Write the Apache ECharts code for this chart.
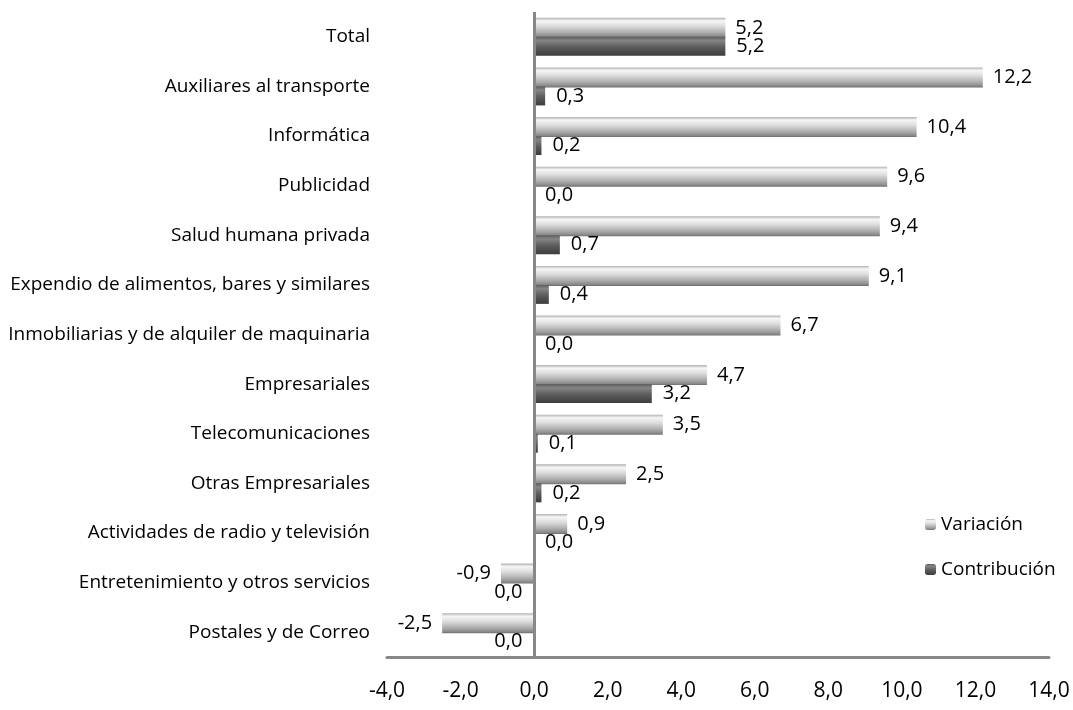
<!DOCTYPE html>
<html><head><meta charset="utf-8">
<script src="https://cdn.jsdelivr.net/npm/echarts@6/dist/echarts.min.js"></script>
<style>html,body{margin:0;padding:0;background:#fff}#c{width:1073px;height:710px}</style>
</head><body><div id="c"></div>
<script>
const categories = ["Total","Auxiliares al transporte","Informática","Publicidad","Salud humana privada","Expendio de alimentos, bares y similares","Inmobiliarias y de alquiler de maquinaria","Empresariales","Telecomunicaciones","Otras Empresariales","Actividades de radio y televisión","Entretenimiento y otros servicios","Postales y de Correo"];
const variacion = [5.2,12.2,10.4,9.6,9.4,9.1,6.7,4.7,3.5,2.5,0.9,-0.9,-2.5];
const contribucion = [5.2,0.3,0.2,0.0,0.7,0.4,0.0,3.2,0.1,0.2,0.0,-0.02,-0.02];
const xTicks = [-4,-2,0,2,4,6,8,10,12,14];

const fmt = v => { if (Math.abs(v) < 0.05) return '0,0'; return v.toFixed(1).replace('.', ','); };
const font = '"Open Sans", "Liberation Sans", Arial, sans-serif';
const mk = arr => arr.map(v => ({value: v, label: {position: v < 0 ? 'left' : 'right'}}));

const gVar = new echarts.graphic.LinearGradient(0,0,0,1,[
  {offset:0,color:'#b0b0b0'},{offset:0.15,color:'#f6f6f6'},{offset:0.4,color:'#dedede'},{offset:0.75,color:'#aaaaaa'},{offset:0.92,color:'#8a8a8a'},{offset:1,color:'#6e6e6e'}]);
const gCon = new echarts.graphic.LinearGradient(0,0,0,1,[
  {offset:0,color:'#5e5e5e'},{offset:0.2,color:'#858585'},{offset:0.55,color:'#5c5c5c'},{offset:1,color:'#3c3c3c'}]);

const chart = echarts.init(document.getElementById('c'));
chart.setOption({
  animation:false,
  grid:{left:387,right:24,top:12,bottom:53},
  legend:{
    orient:'vertical', left:920, top:510, itemWidth:11, itemHeight:11, itemGap:26,
    textStyle:{fontFamily:font,fontSize:19,color:'#000'},
    data:[{name:'Variación',itemStyle:{color:gVar}},{name:'Contribución',itemStyle:{color:gCon}}]
  },
  xAxis:{
    type:'value', min:-4, max:14, interval:2,
    axisLine:{show:true,lineStyle:{color:'#888',width:3}},
    axisTick:{show:false}, splitLine:{show:false},
    axisLabel:{margin:24,fontFamily:font,fontSize:21,color:'#000',formatter:v=>fmt(v)}
  },
  yAxis:{
    type:'category', data:categories, inverse:true,
    axisLine:{show:false,onZero:false}, axisTick:{show:false},
    axisLabel:{margin:17,fontFamily:font,fontSize:19,color:'#000'}
  },
  series:[
    {name:'Variación',type:'bar',data:mk(variacion),barWidth:20,barGap:'-5%',
     itemStyle:{color:gVar},
     label:{show:true,distance:10,fontFamily:font,fontSize:20,color:'#000',formatter:p=>fmt(p.value)},
     markLine:{silent:true,symbol:'none',label:{show:false},lineStyle:{color:'#888',width:3,type:'solid'},data:[{xAxis:0}]}
    },
    {name:'Contribución',type:'bar',data:mk(contribucion),barWidth:19,
     itemStyle:{color:gCon},
     label:{show:true,distance:11,fontFamily:font,fontSize:20,color:'#000',formatter:p=>fmt(p.value)}
    }
  ]
});
</script></body></html>
